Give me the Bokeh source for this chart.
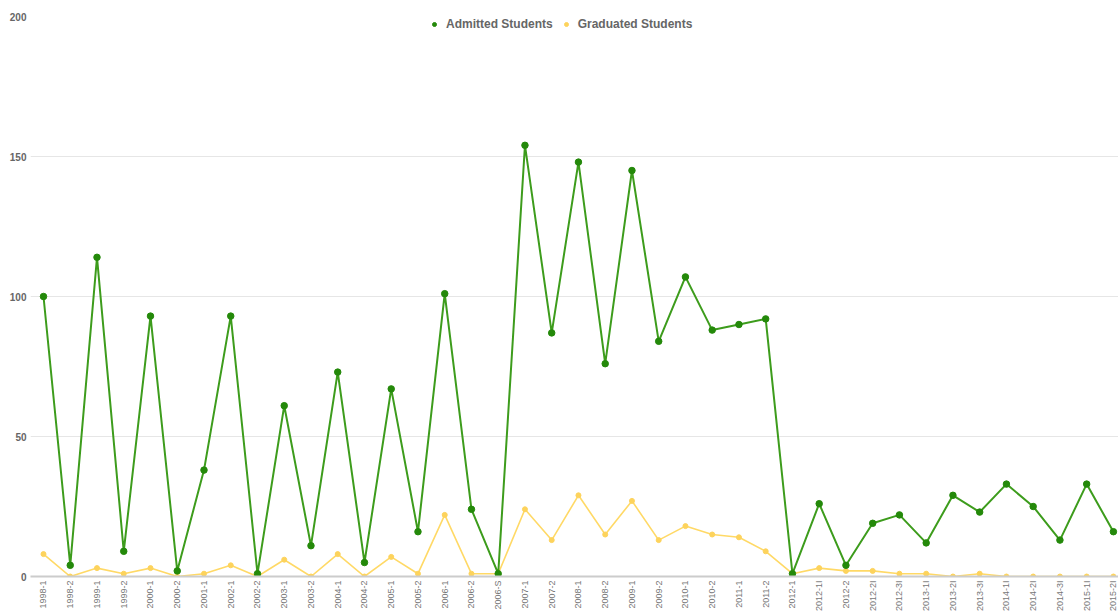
from bokeh.plotting import figure
from bokeh.models import Range1d, FixedTicker, Legend, LegendItem, ColumnDataSource
from bokeh.embed import file_html
from bokeh.resources import INLINE
import math

semesters = ["1998-1", "1998-2", "1999-1", "1999-2", "2000-1", "2000-2", "2001-1",
             "2002-1", "2002-2", "2003-1", "2003-2", "2004-1", "2004-2", "2005-1",
             "2005-2", "2006-1", "2006-2", "2006-S", "2007-1", "2007-2", "2008-1",
             "2008-2", "2009-1", "2009-2", "2010-1", "2010-2", "2011-1", "2011-2",
             "2012-1", "2012-1I", "2012-2", "2012-2I", "2012-3I", "2013-1I", "2013-2I",
             "2013-3I", "2014-1I", "2014-2I", "2014-3I", "2015-1I", "2015-2I"]

admitted = [100, 4, 114, 9, 93, 2, 38, 93, 1, 61, 11, 73, 5, 67, 16, 101, 24, 1,
            154, 87, 148, 76, 145, 84, 107, 88, 90, 92, 1, 26, 4, 19, 22, 12, 29,
            23, 33, 25, 13, 33, 16]

graduated = [8, 0, 3, 1, 3, 0, 1, 4, 0, 6, 0, 8, 0, 7, 1, 22, 1, 1, 24, 13, 29,
             15, 27, 13, 18, 15, 14, 9, 1, 3, 2, 2, 1, 1, 0, 1, 0, 0, 0, 0, 0]

y_ticks = [0, 50, 100, 150, 200]

FONT = "Liberation Sans"
GREEN_LINE = "#3d9c1c"
GREEN_DOT = "#24890a"
YELLOW_LINE = "#ffd966"
YELLOW_DOT = "#fdd35c"

idx = list(range(len(semesters)))
src = ColumnDataSource(dict(x=idx, adm=admitted, grad=graduated))

p = figure(width=1118, height=614, output_backend="svg", toolbar_location=None,
           x_range=Range1d(-0.486, len(semesters) - 1 + 0.19),
           y_range=Range1d(0, 200),
           min_border_left=30, min_border_right=0, min_border_top=16, min_border_bottom=10)
p.outline_line_color = None
p.background_fill_color = "white"
p.border_fill_color = "white"

# lines
p.line("x", "grad", source=src, line_color=YELLOW_LINE, line_width=1.6)
p.line("x", "adm", source=src, line_color=GREEN_LINE, line_width=2)
r_grad = p.scatter("x", "grad", source=src, size=5, fill_color=YELLOW_DOT, line_color=YELLOW_DOT)
r_adm = p.scatter("x", "adm", source=src, size=6.5, fill_color=GREEN_DOT, line_color=GREEN_DOT)

# x axis
p.xaxis.ticker = FixedTicker(ticks=idx)
p.xaxis.major_label_overrides = {i: s for i, s in enumerate(semesters)}
p.xaxis.major_label_orientation = math.pi / 2
p.xaxis.major_label_text_font = FONT
p.xaxis.major_label_text_font_size = "9px"
p.xaxis.major_label_text_color = "#777777"
p.xaxis.major_tick_line_color = None
p.xaxis.minor_tick_line_color = None
p.xaxis.major_tick_out = 0
p.xaxis.major_tick_in = 0
p.xaxis.minor_tick_out = 0
p.xaxis.minor_tick_in = 0
p.xaxis.axis_line_color = "#cccccc"
p.xaxis.axis_line_width = 2
p.xaxis.major_label_standoff = 4
p.xgrid.grid_line_color = None

# y axis
p.yaxis.ticker = FixedTicker(ticks=y_ticks)
p.yaxis.axis_line_color = None
p.yaxis.major_tick_line_color = None
p.yaxis.minor_tick_line_color = None
p.yaxis.major_tick_out = 0
p.yaxis.major_tick_in = 0
p.yaxis.major_label_text_font = FONT
p.yaxis.major_label_text_font_size = "10px"
p.yaxis.major_label_text_font_style = "bold"
p.yaxis.major_label_text_color = "#666666"
p.yaxis.major_label_standoff = 4
p.ygrid.grid_line_color = "#e6e6e6"
p.ygrid.grid_line_width = 1

legend = Legend(items=[LegendItem(label="Admitted Students", renderers=[r_adm]),
                       LegendItem(label="Graduated Students", renderers=[r_grad])],
                location=(398, 544), orientation="horizontal",
                label_text_font=FONT, label_text_font_size="12px",
                label_text_font_style="bold", label_text_color="#666666",
                border_line_alpha=0, background_fill_alpha=0,
                margin=0, padding=1, spacing=8, glyph_width=10, glyph_height=12,
                label_standoff=7)
p.add_layout(legend)

open("out.html", "w").write(file_html(p, INLINE))
